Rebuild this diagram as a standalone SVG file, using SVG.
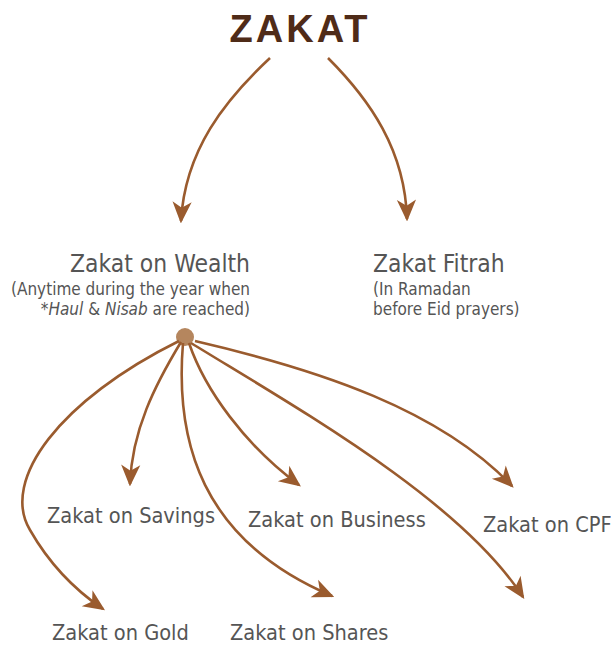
<svg xmlns="http://www.w3.org/2000/svg" width="611" height="646" viewBox="0 0 611 646">
<style>
.t{font-family:"DejaVu Sans Condensed","DejaVu Sans",sans-serif;fill:#555555}
.h{font-size:24.4px}
.m{font-size:21.6px}
.s{font-size:17px}
.c{fill:none;stroke:#9a5b2e;stroke-width:2.6;marker-end:url(#ah)}
</style>
<defs>
<marker id="ah" markerUnits="userSpaceOnUse" markerWidth="24" markerHeight="24" viewBox="-18 -9 20 18" refX="0" refY="0" orient="auto">
<path d="M2,0 L-16,-8 L-11,0 L-16,8 Z" fill="#9a5b2e"/>
</marker>
</defs>
<rect width="611" height="646" fill="#ffffff"/>
<g id="zakat"><text x="300" y="42" text-anchor="middle" style="font-family:'Liberation Sans',sans-serif;font-weight:bold;font-size:38px;letter-spacing:3px;fill:#4f2b18">ZAKAT</text></g>
<g id="wealth">
<text class="t h" x="250" y="272" text-anchor="end">Zakat on Wealth</text>
<text class="t s" x="250" y="295" text-anchor="end">(Anytime during the year when</text>
<text class="t s" x="250" y="315" text-anchor="end">*<tspan font-style="italic">Haul</tspan> &amp; <tspan font-style="italic">Nisab</tspan> are reached)</text>
<circle cx="185" cy="337" r="9" fill="#b5865e"/>
</g>
<g id="fitrah">
<text class="t h" x="373" y="272">Zakat Fitrah</text>
<text class="t s" x="373" y="295">(In Ramadan</text>
<text class="t s" x="373" y="315">before Eid prayers)</text>
</g>
<g id="savings"><text class="t m" x="47" y="523">Zakat on Savings</text></g>
<g id="business"><text class="t m" x="248" y="527">Zakat on Business</text></g>
<g id="cpf"><text class="t m" x="483" y="532">Zakat on CPF</text></g>
<g id="gold"><text class="t m" x="52" y="640">Zakat on Gold</text></g>
<g id="shares"><text class="t m" x="230" y="640">Zakat on Shares</text></g>
<g id="connectors">
<path class="c" d="M270,58 C225,100 185,150 181,221"/>
<path class="c" d="M328,58 C370,100 405,150 407,219"/>
<path class="c" d="M179,341 C60,400 0,480 30,530 C50,565 75,590 103,609"/>
<path class="c" d="M181,342 C155,385 132,430 130,484"/>
<path class="c" d="M183,343 C175,440 200,540 332,596"/>
<path class="c" d="M189,343 C205,390 245,445 299,485"/>
<path class="c" d="M191,343 C300,410 460,500 523,597"/>
<path class="c" d="M195,341 C320,370 440,410 512,486"/>
</g>
</svg>
